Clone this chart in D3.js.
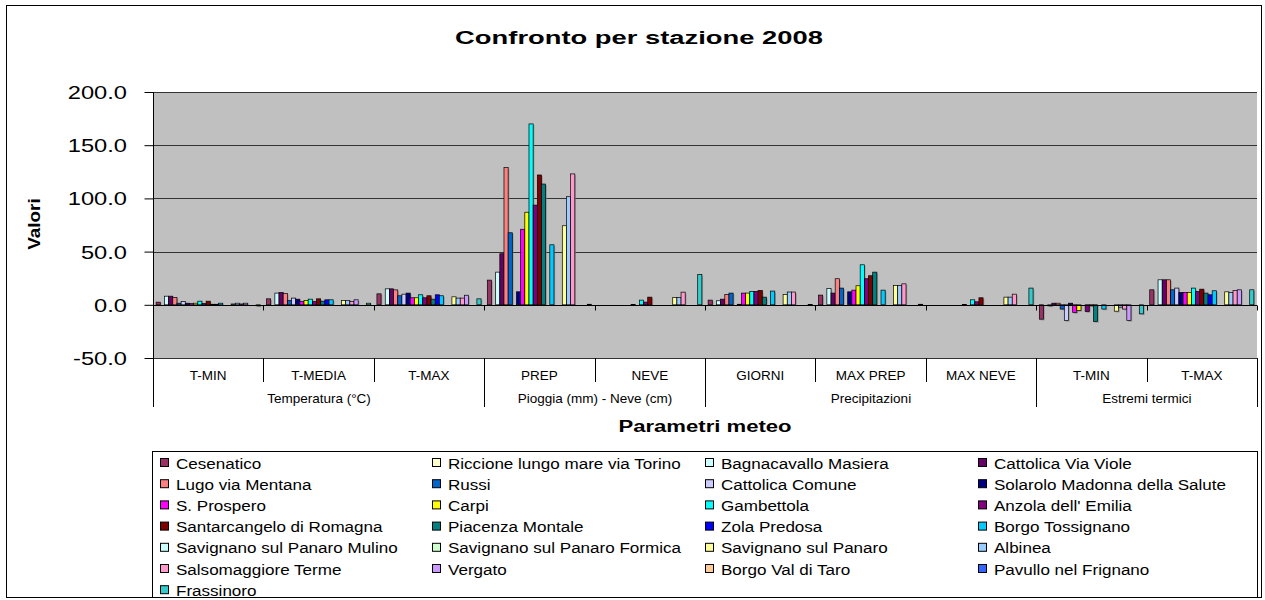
<!DOCTYPE html>
<html>
<head>
<meta charset="utf-8">
<script src="https://cdn.jsdelivr.net/npm/d3@7"></script>
<style>
  body { margin: 0; background: #fff; }
  text { font-family: "Liberation Sans", Arial, sans-serif; fill: #000; }
</style>
</head>
<body>
<div id="chart"></div>
<script>
// categories on the x axis (two levels)
var categories = ["T-MIN", "T-MEDIA", "T-MAX", "PREP", "NEVE", "GIORNI", "MAX PREP", "MAX NEVE", "T-MIN", "T-MAX"];
var groups = [
  {name: "Temperatura (°C)", from: 0, to: 3},
  {name: "Pioggia (mm) - Neve (cm)", from: 3, to: 5},
  {name: "Precipitazioni", from: 5, to: 8},
  {name: "Estremi termici", from: 8, to: 10}
];
var yTicks = [-50, 0, 50, 100, 150, 200];

var stations = ["Cesenatico", "Riccione lungo mare via Torino", "Bagnacavallo Masiera", "Cattolica Via Viole",
  "Lugo via Mentana", "Russi", "Cattolica Comune", "Solarolo Madonna della Salute",
  "S. Prospero", "Carpi", "Gambettola", "Anzola dell' Emilia",
  "Santarcangelo di Romagna", "Piacenza Montale", "Zola Predosa", "Borgo Tossignano",
  "Savignano sul Panaro Mulino", "Savignano sul Panaro Formica", "Savignano sul Panaro", "Albinea",
  "Salsomaggiore Terme", "Vergato", "Borgo Val di Taro", "Pavullo nel Frignano",
  "Frassinoro"];

var colors = ["#993366", "#FFFFCC", "#CCFFFF", "#660066",
  "#FF8080", "#0066CC", "#CCCCFF", "#000080",
  "#FF00FF", "#FFFF00", "#00FFFF", "#800080",
  "#800000", "#008080", "#0000FF", "#00CCFF",
  "#CCFFFF", "#CCFFCC", "#FFFF99", "#99CCFF",
  "#FF99CC", "#CC99FF", "#FFCC99", "#3366FF",
  "#33CCCC"];

// one row per station, one value per category (null = no data)
var N = null;
var values = [
  [2.5, 5.6, 10.3, 23.2, N, 4.4, 9.1, N, -13.5, 14.1],
  [N, N, N, N, N, N, N, N, N, N],
  [8.1, 11, 15, 30.7, N, 3.8, 15.4, N, -1, 23.5],
  [8.1, 11.6, 15, 48, N, 5.3, 11, N, 1.5, 23.5],
  [6.9, 10.7, 14, 129, N, 9.7, 24.5, N, 1.5, 23.5],
  [1.5, 4, 8.5, 67.7, N, 11, 15.7, N, -4, 14.1],
  [3, 6.3, 10, N, N, N, N, N, -14.7, 15.7],
  [1.5, 5.3, 11, 12.2, N, 0.5, 12.2, N, 1.5, 11.6],
  [1.2, 3, 6.6, 71, 0.4, 11, 13.8, 0.4, -7.2, 11.6],
  [1.5, 4, 6.6, 87, N, 11, 17.9, N, -5.3, 11.6],
  [3.4, 5.3, 9.4, 170, 4.4, 12.5, 37.6, 4.7, N, 15.7],
  [1.2, 3, 6.6, 93.7, 2.5, 12.5, 24.5, 2.8, -6.3, 12.5],
  [3.4, 5.6, 8.5, 122, 7.2, 13.5, 27.3, 6.6, -1, 14.7],
  [0.5, 3.4, 5.3, 113.5, N, 7.2, 30.7, N, -15.7, 11],
  [0.5, 4.7, 9.4, N, N, N, N, N, N, 9.4],
  [1.5, 4.7, 8.5, 56.4, N, 12.9, 13.8, N, -4, 13.2],
  [N, N, N, N, N, N, N, N, N, N],
  [N, N, N, N, N, N, N, N, N, N],
  [0.8, 4, 7.5, 74.3, 6.9, 9.7, 18.2, 7.2, -6, 12.2],
  [1.5, 4, 6.3, 101.6, 6.9, 12, 18.2, 7.2, -2.2, 11.6],
  [0.8, 3, 6.3, 123, 11.9, 12, 19.7, 10, -4, 13.5],
  [1.5, 4.7, 9, N, N, N, N, N, -14.7, 14.1],
  [N, N, N, N, N, N, N, N, N, N],
  [N, N, N, N, N, N, N, N, N, N],
  [-1, 1.5, 5.6, 0.5, 28.5, 0.4, 0.5, 15.7, -8.5, 14.1]
];

var W = 1265, H = 600;
var plot = {left: 153, right: 1257, top: 92, bottom: 358};

var svg = d3.select("#chart").append("svg")
  .attr("width", W).attr("height", H);

// outer frame
svg.append("rect").attr("x", 6.5).attr("y", 5.5).attr("width", 1255).attr("height", 592)
  .attr("fill", "#fff").attr("stroke", "#000");

// stretched text helper (the source renders text wider than normal)
function label(g, txt, x, y, size, sx, opts) {
  opts = opts || {};
  var t = g.append("text")
    .attr("transform", "translate(" + x + "," + y + ")" + (opts.rotate ? " rotate(" + opts.rotate + ")" : "") + " scale(" + sx + ",1)")
    .attr("font-size", size + "px")
    .attr("text-anchor", opts.anchor || "middle")
    .text(txt);
  if (opts.bold) t.attr("font-weight", "bold");
  return t;
}

label(svg, "Confronto per stazione 2008", 639, 44, 19, 1.44, {bold: true});

var x = d3.scaleBand().domain(d3.range(categories.length)).range([plot.left, plot.right]).padding(0);
var xi = d3.scaleBand().domain(d3.range(stations.length)).range([0, x.bandwidth()]).paddingInner(0).paddingOuter(0.75);
var y = d3.scaleLinear().domain([-50, 200]).range([plot.bottom, plot.top]);

// plot area
svg.append("rect").attr("x", plot.left).attr("y", plot.top)
  .attr("width", plot.right - plot.left).attr("height", plot.bottom - plot.top)
  .attr("fill", "#C0C0C0");

svg.append("g").selectAll("line").data(yTicks.filter(function(d) { return d != 0; })).enter().append("line")
  .attr("x1", plot.left).attr("x2", plot.right)
  .attr("y1", function(d) { return Math.round(y(d)) + 0.5; })
  .attr("y2", function(d) { return Math.round(y(d)) + 0.5; })
  .attr("stroke", "#333").attr("stroke-width", 1);

// y axis
var yAxis = svg.append("g").attr("transform", "translate(" + (plot.left + 0.5) + ",0)")
  .call(d3.axisLeft(y).tickValues(yTicks).tickSize(9).tickFormat(d3.format(".1f")));
yAxis.select(".domain").remove();
yAxis.selectAll(".tick line").attr("stroke", "#000");
yAxis.selectAll(".tick text").remove();
yTicks.forEach(function(d) {
  label(svg, d3.format(".1f")(d).replace("−", "-"), 127, y(d) + 7, 18.5, 1.28, {anchor: "end"});
});
svg.append("line").attr("x1", plot.left + 0.5).attr("x2", plot.left + 0.5)
  .attr("y1", plot.top).attr("y2", 407).attr("stroke", "#000");

label(svg, "Valori", 40, 224, 16, 1.18, {bold: true, rotate: -90});

// bars
var series = svg.append("g").selectAll("g").data(stations).enter().append("g");
var bars = [];
stations.forEach(function(s, i) {
  categories.forEach(function(c, j) {
    if (values[i][j] != null) bars.push({s: i, c: j, v: values[i][j]});
  });
});
svg.append("g").selectAll("rect").data(bars).enter().append("rect")
  .attr("x", function(d) { return x(d.c) + xi(d.s) + 1.2; })
  .attr("y", function(d) { return Math.min(y(d.v), y(0)) + 1.2; })
  .attr("width", xi.bandwidth())
  .attr("height", function(d) { return Math.abs(y(d.v) - y(0)); })
  .attr("fill", "#7a7a7a").attr("opacity", 0.6);
svg.append("g").selectAll("rect").data(bars).enter().append("rect")
  .attr("x", function(d) { return x(d.c) + xi(d.s); })
  .attr("y", function(d) { return Math.min(y(d.v), y(0)); })
  .attr("width", xi.bandwidth())
  .attr("height", function(d) { return Math.max(0.5, Math.abs(y(d.v) - y(0))); })
  .attr("fill", function(d) { return colors[d.s]; })
  .attr("stroke", "#000").attr("stroke-width", 0.7);

// zero axis with ticks at category boundaries
var y0 = Math.round(y(0)) + 0.5;
svg.append("line").attr("x1", plot.left).attr("x2", plot.right).attr("y1", y0).attr("y2", y0).attr("stroke", "#000");
svg.append("g").selectAll("line").data(d3.range(categories.length + 1)).enter().append("line")
  .attr("x1", function(d) { return Math.round(plot.left + d * x.bandwidth()) + 0.5; })
  .attr("x2", function(d) { return Math.round(plot.left + d * x.bandwidth()) + 0.5; })
  .attr("y1", y0).attr("y2", y0 + 5).attr("stroke", "#000");

// category table below the plot
var bounds = d3.range(categories.length + 1).map(function(d) { return Math.round(plot.left + d * x.bandwidth()) + 0.5; });
var groupEdges = [0].concat(groups.map(function(g) { return g.to; }));
svg.append("g").selectAll("line").data(d3.range(1, categories.length + 1)).enter().append("line")
  .attr("x1", function(d) { return bounds[d]; }).attr("x2", function(d) { return bounds[d]; })
  .attr("y1", plot.bottom)
  .attr("y2", function(d) { return groupEdges.indexOf(d) >= 0 ? 407 : 382; })
  .attr("stroke", "#000");

categories.forEach(function(c, j) {
  svg.append("text").attr("x", x(j) + x.bandwidth() / 2).attr("y", 380)
    .attr("text-anchor", "middle").attr("font-size", "13.5px").text(c);
});
groups.forEach(function(g) {
  svg.append("text").attr("x", (bounds[g.from] + bounds[g.to]) / 2).attr("y", 403)
    .attr("text-anchor", "middle").attr("font-size", "13.5px").text(g.name);
});

label(svg, "Parametri meteo", 705, 432, 17, 1.3, {bold: true});

// legend
var lg = svg.append("g");
lg.append("rect").attr("x", 152.5).attr("y", 451.5).attr("width", 1105).attr("height", 146)
  .attr("fill", "#fff").attr("stroke", "#000");
var colX = [160, 432, 705, 978];
stations.forEach(function(s, i) {
  var cx = colX[i % 4], cy = 463 + Math.floor(i / 4) * 21.2;
  lg.append("rect").attr("x", cx + 0.5).attr("y", cy - 4.5).attr("width", 8).attr("height", 8)
    .attr("fill", colors[i]).attr("stroke", "#000");
  label(lg, s, cx + 16, cy + 5.5, 15.5, 1.1, {anchor: "start"});
});
</script>
</body>
</html>
